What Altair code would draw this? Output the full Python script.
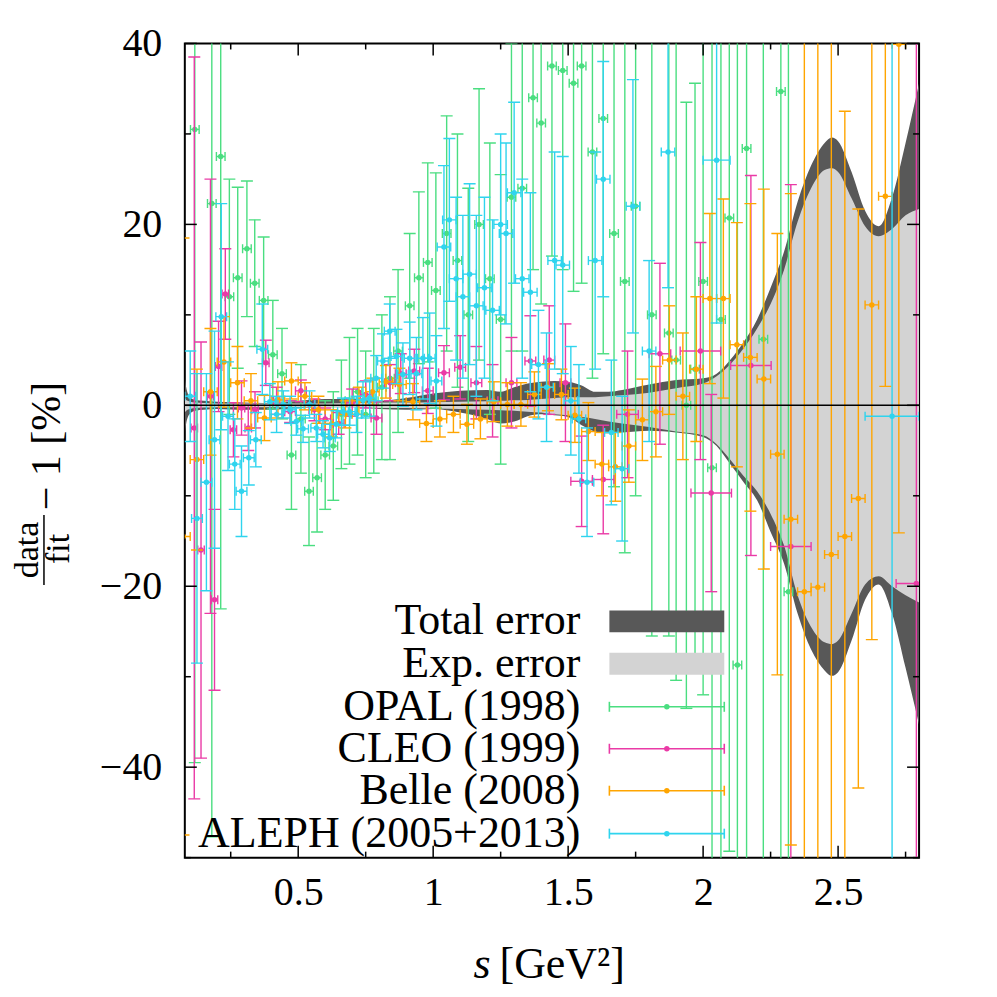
import altair as alt
import pandas as pd

FONT = "Liberation Serif"
W, H = 735, 815
XDOM = [0.08, 2.8]
YDOM = [-50, 40]

# ---------------- data ----------------
# OPAL (1998): s [GeV^2], data/fit-1 [%], half bin width, error
opal_s = [0.117,0.180,0.213,0.245,0.276,0.310,0.339,0.372,0.406,0.440,0.475,0.510,0.540,0.570,0.600,
          0.630,0.660,0.690,0.720,0.750,0.780,0.810,0.840,0.870,0.913,0.947,0.980,1.010,1.050,1.090,
          1.130,1.170,1.210,1.250,1.290,1.330,1.370,1.400,1.440,1.480,1.520,1.550,1.590,1.630,1.670,
          1.710,1.750,1.810,1.873,1.900,1.938,1.970,2.000,2.033,2.066,2.097,2.127,2.161,2.223,2.288,2.316]
opal_v = [30.5,22.3,27.5,12.0,14.1,17.3,13.5,11.6,5.6,3.5,-5.5,-1.5,-9.5,-8.0,-5.5,
          -4.5,-1.0,0.5,1.5,-1.0,0.5,2.0,3.0,6.0,11.0,14.1,15.8,12.7,19.0,16.0,
          10.0,20.0,14.0,9.5,23.0,24.0,34.0,31.2,37.5,37.0,35.6,37.5,28.0,31.7,19.0,
          13.7,22.0,10.0,8.0,5.0,0.0,4.0,13.7,-6.9,9.5,20.7,-28.7,28.4,7.3,34.7,-20.6]
opal_dv = [70,70,50,13,10,7.5,7,7,6,5,6,6,6,6,6,
           6,6,7,7,7,8,8,9,9,8,9.5,11,13,13,14,
           14,15,15,16,17,18,19,20,21,22,23,24,25,26,28,
           30,32,35.5,33.5,35.4,33.5,31.6,45.7,60,62,70,70,80,80,90,90]
opal_ds = [0.016] * len(opal_s)

# CLEO (1999)
cleo_s = [0.115,0.140,0.175,0.190,0.205,0.230,0.260,0.290,0.315,0.340,0.380,0.420,
          0.470,0.510,0.560,0.600,0.650,0.700,0.750,0.790,0.840,0.880,0.930,0.980,1.040,1.100,
          1.160,1.220,1.290,1.360,1.430,1.490,1.550,1.630,1.720,1.840,1.990,2.030,2.177,2.325,2.790]
cleo_v = [-2.5,-16.0,1.0,-21.5,4.3,12.3,-2.7,-0.3,-2.5,-0.5,4.7,0.5,
          -0.7,1.6,-0.5,-1.5,-2.0,0.3,1.2,-1.4,2.5,3.5,3.8,1.6,3.6,4.2,
          2.5,0.5,2.5,4.9,5.0,2.5,-8.4,-8.2,-1.0,5.7,6.0,-9.7,4.4,-15.6,-19.7]
cleo_dv = [41,23,24,10,5,5,3,3,2.5,2,2.5,1.5,
           1.2,1.2,1.2,1.2,1.2,1.5,1.5,1.8,2,2.2,2.4,2.5,3,3.5,
           4,4,5,5,6,6.5,5,6,7,10,12,10.9,21,40,60]
cleo_ds = [0.012]*12 + [0.02]*20 + [0.04]*4 + [0.075]*5

# Belle (2008)
belle_s = [0.075,0.125,0.175,0.225,0.275,0.325,0.375,0.425,0.475,0.525,0.575,0.625,0.675,0.725,
           0.775,0.825,0.875,0.925,0.975,1.025,1.075,1.125,1.175,1.225,1.275,1.325,1.375,1.425,
           1.475,1.525,1.575,1.625,1.675,1.725,1.775,1.825,1.875,1.925,1.975,2.025,2.075,2.125,
           2.175,2.225,2.275,2.325,2.375,2.425,2.475,2.525,2.575,2.625,2.675,2.725]
belle_v = [-14.5,-6.0,1.5,4.8,2.5,0.5,-1.4,0.6,2.7,1.0,-0.5,-2.0,-1.0,0.5,
           1.5,2.6,2.3,0.4,-2.0,-1.5,-1.0,-2.1,-1.5,0.4,0.1,0.1,1.2,2.0,
           1.2,-1.1,-2.9,-6.5,-6.8,-4.5,-1.6,-0.7,5.0,1.0,4.0,11.8,11.8,6.7,
           5.3,2.9,-5.4,-12.6,-20.6,-20.1,-16.5,-14.5,-10.3,11.1,23.1,39.9]
belle_dv = [33,10,7,5,4,3,2.5,2,2,1.5,1.5,1.5,1.5,1.5,
            1.5,1.8,1.8,2,2,2,2,2.2,2.2,2.2,2.4,2.4,2.5,2.6,
            2.8,3,3.2,3.5,3.8,4,4.5,5,6,7,8,9.4,11,13.5,
            17,21,24.4,36,65,65,65,47,32,37,21,54]
belle_ds = [0.025] * len(belle_s)

# ALEPH (2005+2013)
aleph_s = [0.100,0.125,0.160,0.190,0.215,0.240,0.265,0.290,0.317,0.343,0.367,0.395,0.420,0.445,
           0.470,0.493,0.518,0.542,0.567,0.592,0.617,0.641,0.666,0.691,0.716,0.740,0.765,0.789,
           0.814,0.839,0.864,0.888,0.913,0.938,0.962,0.987,1.012,1.040,1.060,1.085,1.110,1.135,
           1.160,1.190,1.220,1.250,1.270,1.300,1.330,1.360,1.390,1.420,1.450,1.480,1.510,1.540,
           1.570,1.600,1.630,1.660,1.700,1.740,1.800,1.870,2.050,2.700]
aleph_v = [1.0,-12.5,-8.5,-3.8,9.8,-1.2,-6.5,-9.5,-5.8,-3.8,6.2,0.4,-1.0,0.1,
           -0.5,-1.8,-2.6,0.1,-2.5,-3.2,-3.6,-2.1,-0.7,-0.7,-1.0,0.6,0.8,3.0,
           4.9,8.2,5.4,3.4,5.2,3.5,5.2,5.2,2.7,17.5,20.5,14.0,12.0,14.5,
           11.0,13.0,10.5,20.0,19.0,23.5,14.0,12.5,4.5,2.0,16.0,15.5,0.5,-1.5,
           -8.5,16.0,25.0,-3.0,-7.0,22.0,6.0,28.0,27.1,-1.2]
aleph_dv = [5,16,12,12,12.5,6,5,5,3,3,5,2,2,1.5,
            1.5,1.5,1.5,1.5,1.5,1.5,1.5,1.5,1.5,1.5,2,2,2,2.5,
            3,3,3,3.5,4,4,4.5,5,5,9,9,9,9,10,
            10,10,10,10,10,10,11,11,6,6,12,12,6,6,
            6,12,13,8,8,14,10,15,18,60]
aleph_ds = [0.02]*37 + [0.025]*27 + [0.05, 0.1]

# fit uncertainty bands (deviation in %)
band_s = [0.08,0.085,0.09,0.10,0.12,0.15,0.20,0.30,0.40,0.50,0.60,0.70,0.80,0.90,1.00,1.10,
          1.20,1.25,1.30,1.35,1.40,1.45,1.50,1.55,1.60,1.65,1.70,1.80,1.90,2.00,2.05,2.10,
          2.15,2.20,2.25,2.30,2.35,2.40,2.45,2.477,2.50,2.55,2.60,2.65,2.70,2.75,2.80]
total_hi = [3.0,2.0,1.4,0.9,0.6,0.5,0.4,0.3,0.25,0.5,0.7,0.7,0.5,0.8,1.3,1.6,
            1.7,1.5,2.0,2.4,2.6,2.7,2.6,2.2,1.5,1.5,1.7,2.3,2.8,3.0,3.5,5.0,
            7.0,9.5,13.0,17.0,22.5,26.5,29.0,29.6,29.2,25.8,21.5,19.8,23.0,29.0,35.6]
total_lo = [-3.0,-2.0,-1.4,-0.9,-0.6,-0.5,-0.4,-0.5,-0.5,-0.3,-0.2,-0.2,-0.4,-0.5,-0.4,-0.8,
            -1.5,-2.0,-1.8,-1.2,-1.0,-1.1,-1.3,-2.2,-2.9,-3.1,-3.0,-2.8,-3.0,-3.5,-4.5,-6.5,
            -8.5,-10.5,-14.0,-17.5,-23.0,-27.0,-29.3,-29.9,-29.5,-26.0,-21.5,-19.8,-23.0,-29.0,-35.3]
exp_hi = [0.8,0.6,0.5,0.4,0.3,0.25,0.2,0.2,0.2,0.2,0.2,0.25,0.3,0.3,0.35,0.4,
          0.45,0.5,0.55,0.6,0.7,0.8,0.9,0.9,0.9,1.0,1.1,1.4,1.9,2.4,3.2,4.5,
          6.3,8.5,11.2,15.0,20.3,24.0,26.0,26.2,25.8,22.9,19.8,18.7,19.5,21.0,21.7]
exp_lo = [-0.8,-0.6,-0.5,-0.4,-0.3,-0.25,-0.2,-0.2,-0.2,-0.2,-0.2,-0.25,-0.3,-0.3,-0.35,-0.4,
          -0.5,-0.55,-0.6,-0.7,-0.8,-1.0,-1.1,-1.3,-1.5,-1.8,-2.0,-2.4,-2.9,-3.3,-4.3,-6.0,
          -7.8,-9.5,-12.0,-15.5,-21.0,-24.5,-26.2,-26.4,-26.0,-23.0,-19.8,-18.9,-20.0,-21.0,-21.8]

x_major = [0.5, 1.0, 1.5, 2.0, 2.5]
x_minor = [0.25, 0.75, 1.25, 1.75, 2.25, 2.75]
y_major = [-40, -20, 0, 20, 40]
y_minor = [-50, -30, -10, 10, 30]

legend_labels = ["Total error", "Exp. error", "OPAL (1998)", "CLEO (1999)",
                 "Belle (2008)", "ALEPH (2005+2013)"]

# ---------------- styles ----------------
C_TOTAL = "#585858"
C_EXP = "#d3d3d3"
C_OPAL = "#4ade80"
C_CLEO = "#ea3aa6"
C_BELLE = "#ffa500"
C_ALEPH = "#2fd4ee"

xscale = alt.Scale(domain=XDOM, nice=False, zero=False)
yscale = alt.Scale(domain=YDOM, nice=False, zero=False)
xaxis = alt.Axis(values=x_major, format="~g", title=None, ticks=False, tickSize=0, domain=False,
                 grid=False, labelFont=FONT, labelFontSize=40, labelColor="black",
                 labelPadding=15, labelFlush=False)
yaxis = alt.Axis(values=y_major, format="d", title=None, ticks=False, tickSize=0, domain=False,
                 grid=False, labelFont=FONT, labelFontSize=40, labelColor="black",
                 labelPadding=23, labelFlush=False)


def X(f):
    return alt.X(f, type="quantitative", scale=xscale, axis=xaxis)


def Y(f):
    return alt.Y(f, type="quantitative", scale=yscale, axis=yaxis)


layers = []

band = pd.DataFrame({"s": band_s, "thi": total_hi, "tlo": total_lo, "ehi": exp_hi, "elo": exp_lo})
layers.append(alt.Chart(band).mark_area(color=C_TOTAL, interpolate="monotone", clip=True, opacity=1)
              .encode(x=X("s"), y=Y("thi"), y2="tlo"))
layers.append(alt.Chart(band).mark_area(color=C_EXP, interpolate="monotone", clip=True, opacity=1)
              .encode(x=X("s"), y=Y("ehi"), y2="elo"))


def series(s, v, ds, dv, color):
    df = pd.DataFrame({"s": s, "v": v, "ds": ds, "dv": dv})
    df["lo"] = df["v"] - df["dv"]
    df["hi"] = df["v"] + df["dv"]
    df["slo"] = df["s"] - df["ds"]
    df["shi"] = df["s"] + df["ds"]
    b = alt.Chart(df)
    sw = 1.4
    return [
        b.mark_rule(color=color, strokeWidth=sw, clip=True).encode(x=X("s"), y=Y("lo"), y2="hi"),
        b.mark_rule(color=color, strokeWidth=sw, clip=True).encode(x=X("slo"), x2="shi", y=Y("v")),
        b.mark_tick(orient="horizontal", size=12, thickness=sw, color=color, clip=True, opacity=1)
         .encode(x=X("s"), y=Y("hi")),
        b.mark_tick(orient="horizontal", size=12, thickness=sw, color=color, clip=True, opacity=1)
         .encode(x=X("s"), y=Y("lo")),
        b.mark_tick(orient="vertical", size=9, thickness=sw, color=color, clip=True, opacity=1)
         .encode(x=X("slo"), y=Y("v")),
        b.mark_tick(orient="vertical", size=9, thickness=sw, color=color, clip=True, opacity=1)
         .encode(x=X("shi"), y=Y("v")),
        b.mark_circle(size=30, color=color, opacity=1, clip=True).encode(x=X("s"), y=Y("v")),
    ]


layers += series(opal_s, opal_v, opal_ds, opal_dv, C_OPAL)
layers += series(cleo_s, cleo_v, cleo_ds, cleo_dv, C_CLEO)
layers += series(belle_s, belle_v, belle_ds, belle_dv, C_BELLE)
layers += series(aleph_s, aleph_v, aleph_ds, aleph_dv, C_ALEPH)

# zero line
layers.append(alt.Chart(pd.DataFrame({"y": [0]})).mark_rule(color="black", strokeWidth=1.5)
              .encode(y=Y("y")))

# inward ticks on all four sides
xmaj = pd.DataFrame({"t": x_major})
xmin = pd.DataFrame({"t": x_minor})
ymaj = pd.DataFrame({"t": y_major})
ymin = pd.DataFrame({"t": y_minor})
tk = dict(color="black", strokeWidth=1.5)
layers += [
    alt.Chart(xmaj).mark_rule(**tk).encode(x=X("t"), y=alt.value(H), y2=alt.value(H - 12)),
    alt.Chart(xmaj).mark_rule(**tk).encode(x=X("t"), y=alt.value(0), y2=alt.value(12)),
    alt.Chart(xmin).mark_rule(**tk).encode(x=X("t"), y=alt.value(H), y2=alt.value(H - 6)),
    alt.Chart(xmin).mark_rule(**tk).encode(x=X("t"), y=alt.value(0), y2=alt.value(6)),
    alt.Chart(ymaj).mark_rule(**tk).encode(y=Y("t"), x=alt.value(0), x2=alt.value(12)),
    alt.Chart(ymaj).mark_rule(**tk).encode(y=Y("t"), x=alt.value(W), x2=alt.value(W - 12)),
    alt.Chart(ymin).mark_rule(**tk).encode(y=Y("t"), x=alt.value(0), x2=alt.value(6)),
    alt.Chart(ymin).mark_rule(**tk).encode(y=Y("t"), x=alt.value(W), x2=alt.value(W - 6)),
]

# legend (drawn inside plot area, bottom right)
one = pd.DataFrame({"a": [0]})
row_y = [578.5, 621, 664, 706, 748, 791]
LX0, LX1, LXT = 425, 540, 396
for i, lab in enumerate(legend_labels):
    layers.append(alt.Chart(one).mark_text(align="right", baseline="alphabetic", font=FONT,
                                           fontSize=44, color="black")
                  .encode(x=alt.value(LXT), y=alt.value(row_y[i] + 13), text=alt.value(lab)))
layers.append(alt.Chart(one).mark_rect(color=C_TOTAL)
              .encode(x=alt.value(LX0), x2=alt.value(LX1), y=alt.value(row_y[0] - 11),
                      y2=alt.value(row_y[0] + 11)))
layers.append(alt.Chart(one).mark_rect(color=C_EXP)
              .encode(x=alt.value(LX0), x2=alt.value(LX1), y=alt.value(row_y[1] - 11),
                      y2=alt.value(row_y[1] + 11)))
for i, col in zip(range(2, 6), [C_OPAL, C_CLEO, C_BELLE, C_ALEPH]):
    yy = row_y[i]
    layers.append(alt.Chart(one).mark_rule(color=col, strokeWidth=1.6)
                  .encode(x=alt.value(LX0), x2=alt.value(LX1), y=alt.value(yy)))
    layers.append(alt.Chart(one).mark_rule(color=col, strokeWidth=1.6)
                  .encode(x=alt.value(LX0), y=alt.value(yy - 5), y2=alt.value(yy + 5)))
    layers.append(alt.Chart(one).mark_rule(color=col, strokeWidth=1.6)
                  .encode(x=alt.value(LX1), y=alt.value(yy - 5), y2=alt.value(yy + 5)))
    layers.append(alt.Chart(one).mark_circle(color=col, size=30, opacity=1)
                  .encode(x=alt.value((LX0 + LX1) / 2), y=alt.value(yy)))

# axis titles
layers.append(alt.Chart(one).mark_text(align="right", baseline="alphabetic", font=FONT,
                                       fontSize=44, fontStyle="italic", color="black")
              .encode(x=alt.value(306), y=alt.value(935), text=alt.value("s")))
layers.append(alt.Chart(one).mark_text(align="left", baseline="alphabetic", font=FONT,
                                       fontSize=44, color="black")
              .encode(x=alt.value(315), y=alt.value(935), text=alt.value("[GeV²]")))
layers.append(alt.Chart(one).mark_text(align="center", baseline="alphabetic", font=FONT,
                                       fontSize=42, angle=270, color="black")
              .encode(x=alt.value(-125), y=alt.value(403), text=alt.value("− 1 [%]")))
layers.append(alt.Chart(one).mark_text(align="center", baseline="alphabetic", font=FONT,
                                       fontSize=34, angle=270, color="black")
              .encode(x=alt.value(-147), y=alt.value(507), text=alt.value("data")))
layers.append(alt.Chart(one).mark_text(align="center", baseline="alphabetic", font=FONT,
                                       fontSize=34, angle=270, color="black")
              .encode(x=alt.value(-116), y=alt.value(506), text=alt.value("fit")))
layers.append(alt.Chart(one).mark_rule(color="black", strokeWidth=1.5)
              .encode(x=alt.value(-141), y=alt.value(472), y2=alt.value(542)))

chart = alt.layer(*layers).properties(
    width=W, height=H,
    autosize=alt.AutoSizeParams(type="none"),
    padding={"left": 177, "top": 35, "right": 70, "bottom": 140},
).configure_view(stroke="black", strokeWidth=2)

chart.save("out.html", embed_options={"renderer": "svg", "actions": False})
